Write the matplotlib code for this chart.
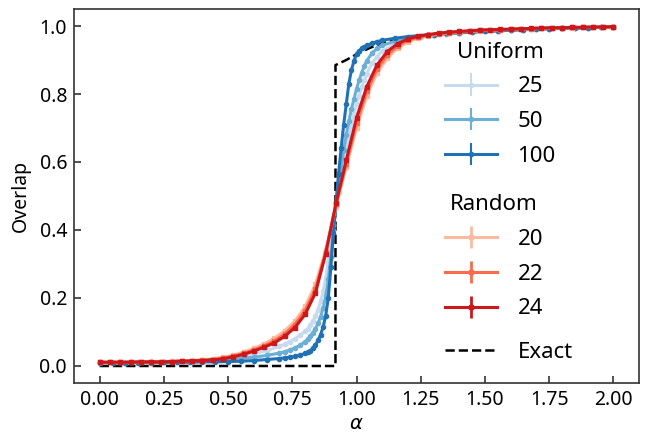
import numpy as np
import matplotlib
matplotlib.use('Agg')
from matplotlib import pyplot as plt

plt.rcParams['font.family'] = ['Noto Sans', 'DejaVu Sans']
plt.rcParams['mathtext.fontset'] = 'dejavusans'

# uniform data (sizes 25, 50, 100)
alpha_u = [0.00, 0.05, 0.10, 0.15, 0.20, 0.25, 0.30, 0.35, 0.40, 0.45, 0.50, 0.55, 0.60, 0.65, 0.70,
           0.72, 0.74, 0.76, 0.78,
           0.80, 0.81, 0.82, 0.83, 0.84, 0.85, 0.86, 0.87, 0.88, 0.89, 0.90, 0.91, 0.92, 0.93, 0.94,
           0.95, 0.96, 0.97, 0.98, 0.99, 1.00, 1.01, 1.02, 1.03, 1.04,
           1.06, 1.08, 1.10,
           1.15, 1.20, 1.25, 1.30, 1.35, 1.40, 1.45, 1.50, 1.55, 1.60, 1.65, 1.70, 1.75, 1.80,
           1.85, 1.90, 1.95, 2.00]

uni_25 = [0.011, 0.011, 0.011, 0.012, 0.012, 0.013, 0.014, 0.016, 0.018, 0.021, 0.024, 0.029, 0.036, 0.045, 0.058,
          0.064, 0.072, 0.080, 0.090,
          0.102, 0.110, 0.120, 0.132, 0.146, 0.165, 0.190, 0.220, 0.260, 0.310, 0.360, 0.415, 0.465, 0.510, 0.555,
          0.600, 0.640, 0.675, 0.710, 0.740, 0.770, 0.795, 0.820, 0.840, 0.860,
          0.890, 0.910, 0.926,
          0.948, 0.960, 0.968, 0.973, 0.977, 0.980, 0.982, 0.984, 0.986, 0.988, 0.989, 0.991, 0.992, 0.993,
          0.994, 0.995, 0.996, 0.997]

uni_50 = [0.010, 0.010, 0.010, 0.011, 0.011, 0.012, 0.012, 0.013, 0.015, 0.017, 0.019, 0.022, 0.026, 0.031, 0.038,
          0.042, 0.047, 0.053, 0.061,
          0.072, 0.079, 0.088, 0.098, 0.110, 0.125, 0.145, 0.170, 0.205, 0.255, 0.320, 0.400, 0.470, 0.530, 0.585,
          0.635, 0.680, 0.720, 0.755, 0.785, 0.815, 0.840, 0.862, 0.882, 0.898,
          0.920, 0.934, 0.943,
          0.955, 0.964, 0.970, 0.974, 0.977, 0.980, 0.982, 0.984, 0.986, 0.988, 0.989, 0.991, 0.992, 0.993,
          0.994, 0.995, 0.996, 0.997]

uni_100 = [0.010, 0.010, 0.010, 0.010, 0.010, 0.011, 0.011, 0.011, 0.012, 0.012, 0.013, 0.014, 0.016, 0.019, 0.022,
           0.024, 0.026, 0.028, 0.032,
           0.037, 0.040, 0.045, 0.052, 0.062, 0.075, 0.092, 0.115, 0.148, 0.200, 0.290, 0.390, 0.480, 0.565, 0.640,
           0.710, 0.770, 0.830, 0.870, 0.897, 0.918, 0.927, 0.934, 0.939, 0.943,
           0.949, 0.954, 0.958,
           0.964, 0.969, 0.972, 0.975, 0.978, 0.980, 0.982, 0.984, 0.986, 0.988, 0.989, 0.991, 0.992, 0.993,
           0.994, 0.995, 0.996, 0.997]

# random data (sizes 20, 22, 24), alpha step 0.04
alpha_r = np.linspace(0, 2, 51)

rnd_20 = [0.011, 0.011, 0.011, 0.012, 0.012, 0.013, 0.013, 0.014, 0.015, 0.016, 0.018, 0.021, 0.026, 0.032, 0.041,
          0.052, 0.065, 0.082, 0.103, 0.132, 0.175, 0.240, 0.340, 0.470, 0.585, 0.700, 0.795, 0.862, 0.905, 0.935,
          0.953, 0.964, 0.971, 0.976, 0.979, 0.982, 0.984, 0.986, 0.988, 0.989, 0.990, 0.991, 0.992, 0.993, 0.994,
          0.995, 0.995, 0.996, 0.996, 0.997, 0.997]

rnd_22 = [0.011, 0.011, 0.011, 0.011, 0.012, 0.012, 0.013, 0.013, 0.014, 0.015, 0.017, 0.019, 0.023, 0.029, 0.037,
          0.047, 0.059, 0.074, 0.094, 0.122, 0.163, 0.226, 0.335, 0.475, 0.595, 0.715, 0.808, 0.874, 0.915, 0.942,
          0.958, 0.967, 0.973, 0.977, 0.980, 0.983, 0.985, 0.987, 0.988, 0.989, 0.990, 0.991, 0.992, 0.993, 0.994,
          0.995, 0.996, 0.996, 0.997, 0.997, 0.998]

rnd_24 = [0.011, 0.011, 0.011, 0.011, 0.012, 0.012, 0.012, 0.013, 0.014, 0.015, 0.016, 0.018, 0.021, 0.027, 0.034,
          0.044, 0.055, 0.068, 0.087, 0.113, 0.152, 0.215, 0.330, 0.478, 0.605, 0.730, 0.822, 0.886, 0.925, 0.948,
          0.962, 0.970, 0.975, 0.979, 0.982, 0.984, 0.986, 0.988, 0.989, 0.990, 0.991, 0.992, 0.993, 0.994, 0.995,
          0.995, 0.996, 0.996, 0.997, 0.997, 0.998]

uni_err = 0.004
rnd_err = 0.006

# exact curve
alpha_exact = [0.0, 0.918, 0.9181, 0.96, 1.00, 1.05, 1.10, 1.20, 1.30, 1.50, 1.75, 2.00]
overlap_exact = [0.0, 0.0, 0.885, 0.900, 0.917, 0.935, 0.950, 0.965, 0.975, 0.985, 0.993, 0.997]

uni_labels = ['25', '50', '100']
rnd_labels = ['20', '22', '24']
blues = ['#c6dbef', '#6baed6', '#2171b5']
reds = ['#fcbba1', '#fb6a4a', '#cb181d']

fig = plt.figure(figsize=(6.47, 4.33), dpi=100)
ax = fig.add_axes([0.1144, 0.1155, 0.8733, 0.8637])

exact_line, = ax.plot(alpha_exact, overlap_exact, '--', color='black', lw=1.8, zorder=1)

uni_handles = []
for vals, col in zip([uni_25, uni_50, uni_100], blues):
    h = ax.errorbar(alpha_u, vals, yerr=uni_err, color=col, marker='o', ms=3, lw=2.2,
                    elinewidth=1.5, capsize=0, zorder=2)
    uni_handles.append(h)

rnd_handles = []
for vals, col in zip([rnd_20, rnd_22, rnd_24], reds):
    h = ax.errorbar(alpha_r, vals, yerr=rnd_err, color=col, marker='s', ms=3, lw=2.2,
                    elinewidth=2, capsize=0, zorder=3)
    rnd_handles.append(h)

ax.set_xlim(-0.1, 2.1)
ax.set_ylim(-0.05, 1.05)
ax.set_xticks([0, 0.25, 0.5, 0.75, 1.0, 1.25, 1.5, 1.75, 2.0])
ax.set_yticks([0, 0.2, 0.4, 0.6, 0.8, 1.0])
ax.set_xticklabels(['0.00', '0.25', '0.50', '0.75', '1.00', '1.25', '1.50', '1.75', '2.00'])
ax.tick_params(direction='in', length=5, width=1.2, labelsize=14, pad=5, color='#333333')
for sp in ax.spines.values():
    sp.set_linewidth(1.2)
    sp.set_color('#333333')

ax.set_xlabel(r'$\alpha$', fontsize=14, labelpad=3)
ax.set_ylabel('Overlap', fontsize=14, labelpad=6)

leg_kw = dict(frameon=False, fontsize=16, title_fontsize=16, handlelength=2.35,
              handletextpad=0.9, borderpad=0, borderaxespad=0, labelspacing=0.62,
              loc='upper left')
leg1 = ax.legend(uni_handles, uni_labels, title='Uniform', bbox_to_anchor=(0.657, 0.913), **leg_kw)
ax.add_artist(leg1)
leg2 = ax.legend(rnd_handles, rnd_labels, title='Random', bbox_to_anchor=(0.657, 0.505), **leg_kw)
ax.add_artist(leg2)
leg3 = ax.legend([exact_line], ['Exact'], bbox_to_anchor=(0.657, 0.11), **leg_kw)

fig.savefig('out.png', dpi=100)
